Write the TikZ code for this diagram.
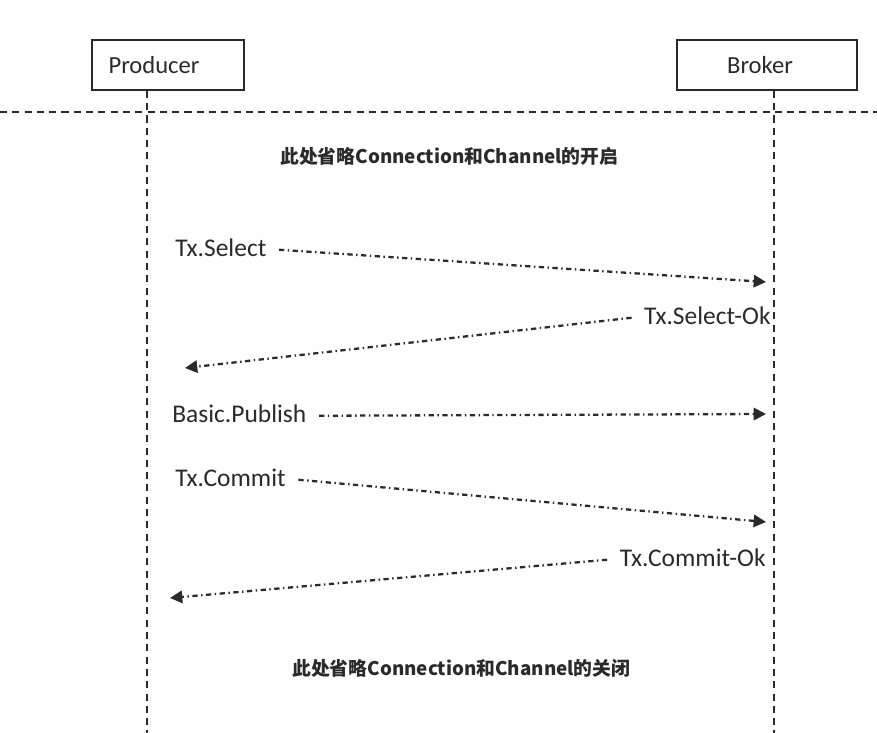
\documentclass[tikz,border=0pt]{standalone}
\usepackage{fontspec}
\setmainfont{Carlito}
\newfontfamily\cjk{Noto Sans CJK SC}
\usetikzlibrary{arrows.meta}
\definecolor{ink}{HTML}{2A2A2A}
\tikzset{
  actor/.style={draw=ink, line width=1pt, minimum width=#1, minimum height=50*0.02cm, inner sep=0pt},
  actortext/.style={inner sep=0pt, font=\fontsize{14}{16}\selectfont, text=ink},
  lifeline/.style={draw=ink, line width=0.8pt, dash pattern=on 4pt off 3pt},
  msg/.style={draw=ink, line width=1.3pt, dash pattern=on 3pt off 2pt on 0.8pt off 2pt, -{Triangle[length=7pt,width=7pt]}},
  lbl/.style={inner sep=0pt, font=\fontsize{14.5}{16}\selectfont, text=ink},
  note/.style={inner sep=0pt, font=\cjk\fontsize{10.7}{13}\selectfont\bfseries, text=ink}
}
\begin{document}
\begin{tikzpicture}[x=0.02cm,y=-0.02cm]
\useasboundingbox (0,0) rectangle (877,733);
\node[actor=152*0.02cm] (prod) at (168,65) {};
\node[actor=180*0.02cm] (brok) at (767,65) {};
\node[actortext] (prodt) at (154,65) {Producer};
\node[actortext] (brokt) at (760,65) {Broker};
\coordinate (pbot) at (147,733);
\coordinate (bbot) at (774,733);
\draw[lifeline] (prod.south -| pbot) -- (pbot);
\draw[lifeline] (brok.south -| bbot) -- (bbot);
\coordinate (sepL) at (0,112);
\coordinate (sepR) at (877,112);
\draw[lifeline] (sepL) -- (sepR);

\node[note, anchor=west] (open) at (280,156) {此处省略Connection和Channel的开启};
\node[note, anchor=west] (close) at (292,668) {此处省略Connection和Channel的关闭};

\node[lbl, anchor=west] (sel) at (175,248) {Tx.Select};
\coordinate (selE) at (766,282);
\draw[msg] ([xshift=7pt,yshift=-1pt]sel.east) -- (selE);

\node[lbl, anchor=east] (selok) at (771,316) {Tx.Select-Ok};
\coordinate (selokE) at (185,368);
\draw[msg] ([xshift=-7pt,yshift=-1pt]selok.west) -- (selokE);

\node[lbl, anchor=west] (pub) at (172,414) {Basic.Publish};
\coordinate (pubE) at (766,414);
\draw[msg] ([xshift=7pt,yshift=-1pt]pub.east) -- (pubE);

\node[lbl, anchor=west] (com) at (175,478) {Tx.Commit};
\coordinate (comE) at (766,522);
\draw[msg] ([xshift=7pt,yshift=-1pt]com.east) -- (comE);

\node[lbl, anchor=east] (comok) at (766,558) {Tx.Commit-Ok};
\coordinate (comokE) at (170,598);
\draw[msg] ([xshift=-7pt,yshift=-1pt]comok.west) -- (comokE);
\end{tikzpicture}
\end{document}
